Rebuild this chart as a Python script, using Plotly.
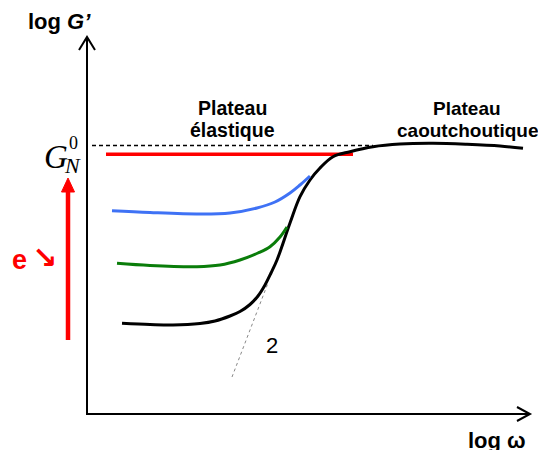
import plotly.graph_objects as go

# Schematic coordinates: origin at the axes' corner, x = log ω, y = log G' (arbitrary units)
black_x = [35, 63, 86, 113, 128, 143, 153, 163, 171, 178, 184, 190, 203, 213, 223, 233, 246, 263, 286, 313, 346, 380, 413, 436]
black_y = [90.7, 89.5, 89, 90.5, 93, 98, 102.5, 109.5, 118, 129, 141, 154, 191, 217.3, 234, 246, 257.3, 262.3, 267.3, 270, 270.7, 269.7, 268, 265.7]

blue_x = [25, 63, 113, 143, 170, 188, 203, 213, 223]
blue_y = [203.3, 201.5, 200, 201, 206, 212, 221, 229, 238]

green_x = [30, 63, 110, 133, 153, 171, 183, 193, 200]
green_y = [150.7, 148.5, 147.3, 149, 154, 161, 167.3, 177, 187]

red_x = [19, 266]
red_y = [259.7, 259.7]

gn0_x = [5, 286]
gn0_y = [268.5, 268.5]

tangent_x = [145, 181]
tangent_y = [37, 131]

fig = go.Figure()

fig.add_trace(go.Scatter(x=tangent_x, y=tangent_y, mode="lines",
                         line=dict(color="#888888", width=1, dash="dot"), hoverinfo="skip"))
fig.add_trace(go.Scatter(x=gn0_x, y=gn0_y, mode="lines",
                         line=dict(color="black", width=1.3, dash="4px,3px"), hoverinfo="skip"))
fig.add_trace(go.Scatter(x=red_x, y=red_y, mode="lines",
                         line=dict(color="#ff0000", width=3.5), hoverinfo="skip"))
fig.add_trace(go.Scatter(x=black_x, y=black_y, mode="lines", line_shape="spline",
                         line=dict(color="black", width=3, smoothing=1.0), hoverinfo="skip"))
fig.add_trace(go.Scatter(x=blue_x, y=blue_y, mode="lines", line_shape="spline",
                         line=dict(color="#3f72f5", width=3), hoverinfo="skip"))
fig.add_trace(go.Scatter(x=green_x, y=green_y, mode="lines", line_shape="spline",
                         line=dict(color="#0a7d0a", width=3), hoverinfo="skip"))

shapes = [
    # y axis + arrow
    dict(type="line", x0=0, y0=0, x1=0, y1=377, line=dict(color="black", width=2)),
    dict(type="path", path="M -8,364 L 0,377 L 8,364", line=dict(color="black", width=2)),
    # x axis + arrow
    dict(type="line", x0=-1, y0=0, x1=443, y1=0, line=dict(color="black", width=2)),
    dict(type="path", path="M 430,7 L 443,0 L 430,-7", line=dict(color="black", width=2)),
    # red arrow (e decreasing)
    dict(type="line", x0=-19, y0=74, x1=-19, y1=224, line=dict(color="#ff0000", width=4.5)),
    dict(type="path", path="M -25.5,222 L -19,236 L -12.5,222 Z", fillcolor="#ff0000",
         line=dict(color="#ff0000", width=1)),
]

sans = "Liberation Sans, Arial, sans-serif"
serif = "Liberation Serif, Times New Roman, serif"
ann = [
    dict(x=-61, y=393, text="<b>log <i>G’</i></b>", xanchor="left", yanchor="middle",
         font=dict(family=sans, size=22, color="black")),
    dict(x=441, y=-26, text="<b>log ω</b>", xanchor="right", yanchor="middle",
         font=dict(family=sans, size=22, color="black")),
    dict(x=145, y=306, text="<b>Plateau</b>", xanchor="center", yanchor="middle",
         font=dict(family=sans, size=19.5, color="black")),
    dict(x=145, y=284, text="<b>élastique</b>", xanchor="center", yanchor="middle",
         font=dict(family=sans, size=19.5, color="black")),
    dict(x=380, y=306, text="<b>Plateau</b>", xanchor="center", yanchor="middle",
         font=dict(family=sans, size=19, color="black")),
    dict(x=380, y=284, text="<b>caoutchoutique</b>", xanchor="center", yanchor="middle",
         font=dict(family=sans, size=19, color="black")),
    dict(x=-31, y=257, text="<i>G</i>", xanchor="center", yanchor="middle",
         font=dict(family=serif, size=33, color="black")),
    dict(x=-15, y=249, text="<i>N</i>", xanchor="center", yanchor="middle",
         font=dict(family=serif, size=22, color="black")),
    dict(x=-14, y=271, text="0", xanchor="center", yanchor="middle",
         font=dict(family=serif, size=18, color="black")),
    dict(x=-68, y=154, text="<b>e</b>", xanchor="center", yanchor="middle",
         font=dict(family=sans, size=27, color="#ff0000")),
    dict(x=-43, y=157, text="<b>↘</b>", xanchor="center", yanchor="middle",
         font=dict(family="DejaVu Sans, sans-serif", size=30, color="#ff0000")),
    dict(x=185, y=69, text="2", xanchor="center", yanchor="middle",
         font=dict(family=sans, size=22, color="black")),
]
for a in ann:
    a["showarrow"] = False
    a["xref"] = "x"
    a["yref"] = "y"

# The page body has an 8px margin, so the figure is 8px smaller and the ranges shifted.
fig.update_layout(
    width=538, height=442,
    margin=dict(l=0, r=0, t=0, b=0),
    paper_bgcolor="white", plot_bgcolor="white",
    showlegend=False,
    xaxis=dict(range=[-79, 459], visible=False, fixedrange=True),
    yaxis=dict(range=[-36, 406], visible=False, fixedrange=True),
    shapes=shapes,
    annotations=ann,
)

fig.write_html("out.html", config={"displayModeBar": False})
